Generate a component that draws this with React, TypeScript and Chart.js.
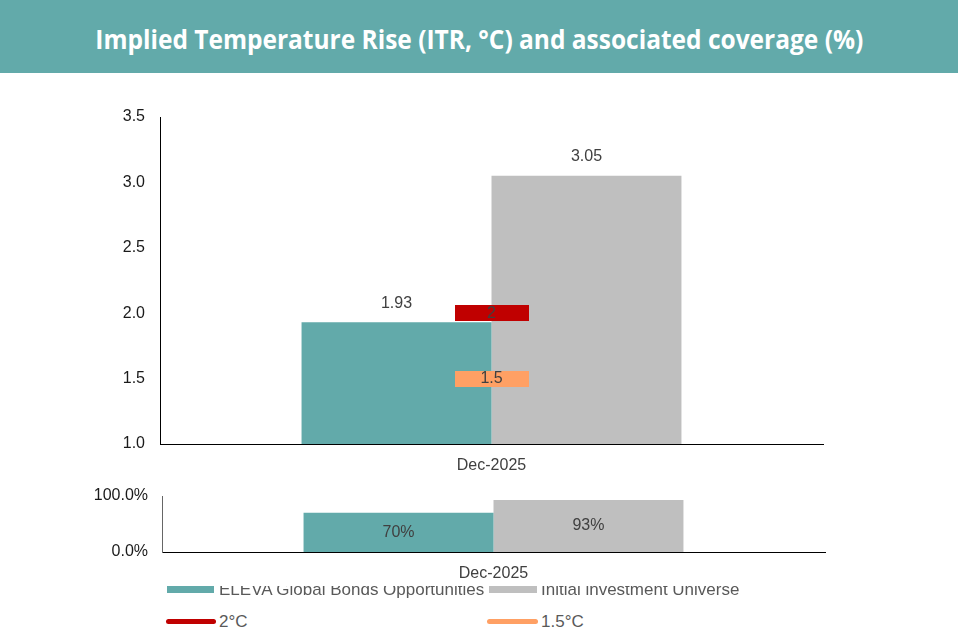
import React, { useEffect, useLayoutEffect, useRef } from 'react';
import { Chart, registerables } from 'chart.js';

Chart.register(...registerables);

// ---------- data ----------
const titleText = 'Implied Temperature Rise (ITR, °C) and associated coverage (%)';
const categories = ['Dec-2025'];
const fundName = 'ELEVA Global Bonds Opportunities';
const universeName = 'Initial investment Universe';
const itrFund = [1.93];
const itrUniverse = [3.05];
const target2Name = '2°C';
const target15Name = '1.5°C';
const target2 = [2];
const target15 = [1.5];
const coverageFund = [0.7];
const coverageUniverse = [0.93];
const itrAxis = { min: 1, max: 3.5, step: 0.5 };
const coverageAxis = { min: 0, max: 1, step: 1 };

// ---------- styles ----------
const TEAL = '#62AAAA';
const GREY = '#BFBFBF';
const RED = '#C00000';
const ORANGE = '#FFA064';
const LABEL = '#404040';
const FONT = '"Liberation Sans", Arial, sans-serif';

function makeMarker(color: string) {
  const c = document.createElement('canvas');
  c.width = 74;
  c.height = 16;
  const ctx = c.getContext('2d')!;
  ctx.fillStyle = color;
  ctx.fillRect(0, 0, 74, 16);
  return c;
}

const labelsPlugin = {
  id: 'valueLabels',
  afterDatasetsDraw(chart: any) {
    const ctx = chart.ctx;
    ctx.save();
    ctx.font = `16px ${FONT}`;
    ctx.fillStyle = LABEL;
    ctx.textAlign = 'center';
    ctx.textBaseline = 'middle';
    chart.data.datasets.forEach((ds: any, i: number) => {
      const meta = chart.getDatasetMeta(i);
      meta.data.forEach((el: any, j: number) => {
        const v = ds.data[j];
        const text = ds.fmt ? ds.fmt(v) : String(v);
        let y = el.y;
        if (ds.labelMode === 'above') y = el.y - 19;
        else if (ds.labelMode === 'center') y = (el.y + el.base) / 2;
        ctx.fillText(text, el.x, y);
      });
    });
    ctx.restore();
  },
};

function useChart(ref: React.RefObject<HTMLCanvasElement>, build: () => any) {
  useEffect(() => {
    if (!ref.current) return;
    const chart = new Chart(ref.current, build());
    return () => chart.destroy();
  }, []);
}

export default function App() {
  const mainRef = useRef<HTMLCanvasElement>(null);
  const covRef = useRef<HTMLCanvasElement>(null);
  const titleRef = useRef<HTMLSpanElement>(null);

  useLayoutEffect(() => {
    const el = titleRef.current;
    if (!el) return;
    const w = el.getBoundingClientRect().width;
    if (w > 0) el.style.transform = `scaleX(${768 / w})`;
  }, []);

  useChart(mainRef, () => ({
    type: 'bar',
    data: {
      labels: categories,
      datasets: [
        {
          type: 'line',
          label: target2Name,
          data: target2,
          showLine: false,
          pointStyle: makeMarker(RED),
          pointRadius: 8,
          order: 0,
          labelMode: 'point',
          fmt: (v: number) => String(v),
        },
        {
          type: 'line',
          label: target15Name,
          data: target15,
          showLine: false,
          pointStyle: makeMarker(ORANGE),
          pointRadius: 8,
          order: 0,
          labelMode: 'point',
          fmt: (v: number) => String(v),
        },
        {
          label: fundName,
          data: itrFund,
          backgroundColor: TEAL,
          borderWidth: 0,
          categoryPercentage: 0.573,
          barPercentage: 1,
          order: 1,
          labelMode: 'above',
          fmt: (v: number) => v.toFixed(2),
        },
        {
          label: universeName,
          data: itrUniverse,
          backgroundColor: GREY,
          borderWidth: 0,
          categoryPercentage: 0.573,
          barPercentage: 1,
          order: 1,
          labelMode: 'above',
          fmt: (v: number) => v.toFixed(2),
        },
      ],
    },
    options: {
      responsive: false,
      animation: false,
      devicePixelRatio: 1,
      layout: { padding: { top: 44, right: 137, left: 0, bottom: 0 } },
      plugins: { legend: { display: false }, tooltip: { enabled: false } },
      scales: {
        x: {
          grid: { display: false, drawTicks: false },
          border: { display: true, color: '#000', width: 1 },
          ticks: { font: { family: FONT, size: 16 }, color: LABEL, padding: 12 },
          afterFit: (s: any) => { s.height = 39; },
        },
        y: {
          min: itrAxis.min,
          max: itrAxis.max,
          grid: { display: false, drawTicks: false },
          border: { display: true, color: '#000', width: 1 },
          ticks: {
            stepSize: itrAxis.step,
            font: { family: FONT, size: 16 },
            color: '#1a1a1a',
            padding: 15,
            callback: (v: number) => Number(v).toFixed(1),
          },
          afterFit: (s: any) => { s.width = 160; s.paddingTop = 0; s.paddingBottom = 0; },
        },
      },
    },
    plugins: [labelsPlugin],
  }));

  useChart(covRef, () => ({
    type: 'bar',
    data: {
      labels: categories,
      datasets: [
        {
          label: fundName,
          data: coverageFund,
          backgroundColor: TEAL,
          borderWidth: 0,
          categoryPercentage: 0.573,
          barPercentage: 1,
          labelMode: 'center',
          fmt: (v: number) => `${Math.round(v * 100)}%`,
        },
        {
          label: universeName,
          data: coverageUniverse,
          backgroundColor: GREY,
          borderWidth: 0,
          categoryPercentage: 0.573,
          barPercentage: 1,
          labelMode: 'center',
          fmt: (v: number) => `${Math.round(v * 100)}%`,
        },
      ],
    },
    options: {
      responsive: false,
      animation: false,
      devicePixelRatio: 1,
      layout: { padding: { top: 13, right: 135, left: 0, bottom: 0 } },
      plugins: { legend: { display: false }, tooltip: { enabled: false } },
      scales: {
        x: {
          grid: { display: false, drawTicks: false },
          border: { display: true, color: '#000', width: 1 },
          ticks: { font: { family: FONT, size: 16 }, color: LABEL, padding: 12 },
          afterFit: (s: any) => { s.height = 41; },
        },
        y: {
          min: coverageAxis.min,
          max: coverageAxis.max,
          grid: { display: false, drawTicks: false },
          border: { display: true, color: '#666', width: 1 },
          ticks: {
            stepSize: coverageAxis.step,
            font: { family: FONT, size: 16 },
            color: '#1a1a1a',
            padding: 14,
            callback: (v: number) => `${(Number(v) * 100).toFixed(1)}%`,
          },
          afterFit: (s: any) => { s.width = 162; s.paddingTop = 0; s.paddingBottom = 0; },
        },
      },
    },
    plugins: [labelsPlugin],
  }));

  const legendText: React.CSSProperties = {
    position: 'absolute',
    font: `17px ${FONT}`,
    lineHeight: '17px',
    color: '#595959',
    whiteSpace: 'nowrap',
  };

  return (
    <div style={{ position: 'fixed', left: 0, top: 0, width: 960, height: 634, background: '#fff', overflow: 'hidden' }}>
      <div
        style={{
          position: 'absolute', left: 0, top: 0, width: 958, height: 73, background: TEAL,
          display: 'flex', alignItems: 'center', justifyContent: 'center', paddingTop: 4, boxSizing: 'border-box',
        }}
      >
        <span
          ref={titleRef}
          style={{ display: 'inline-block', font: `700 27px "Open Sans", sans-serif`, color: '#fff', whiteSpace: 'nowrap', transformOrigin: 'center' }}
        >
          {titleText}
        </span>
      </div>
      <canvas ref={mainRef} width={960} height={410} style={{ position: 'absolute', left: 0, top: 73, width: 960, height: 410 }} />
      <canvas ref={covRef} width={960} height={110} style={{ position: 'absolute', left: 0, top: 483, width: 960, height: 110 }} />
      {/* legend row 1 (clipped at top as in the reference) */}
      <div style={{ position: 'absolute', left: 0, top: 586, width: 960, height: 12, overflow: 'hidden', background: 'transparent' }}>
        <div style={{ position: 'absolute', left: 167, top: -3, width: 47, height: 10, background: TEAL }} />
        <div style={{ ...legendText, left: 219, top: -5 }}>{fundName}</div>
        <div style={{ position: 'absolute', left: 489, top: -3, width: 48, height: 10, background: GREY }} />
        <div style={{ ...legendText, left: 541, top: -5 }}>{universeName}</div>
      </div>
      {/* legend row 2 */}
      <div style={{ position: 'absolute', left: 166, top: 619, width: 50, height: 5, borderRadius: 3, background: RED }} />
      <div style={{ ...legendText, left: 219, top: 613 }}>{target2Name}</div>
      <div style={{ position: 'absolute', left: 487, top: 619, width: 51, height: 5, borderRadius: 3, background: ORANGE }} />
      <div style={{ ...legendText, left: 541, top: 613 }}>{target15Name}</div>
    </div>
  );
}
